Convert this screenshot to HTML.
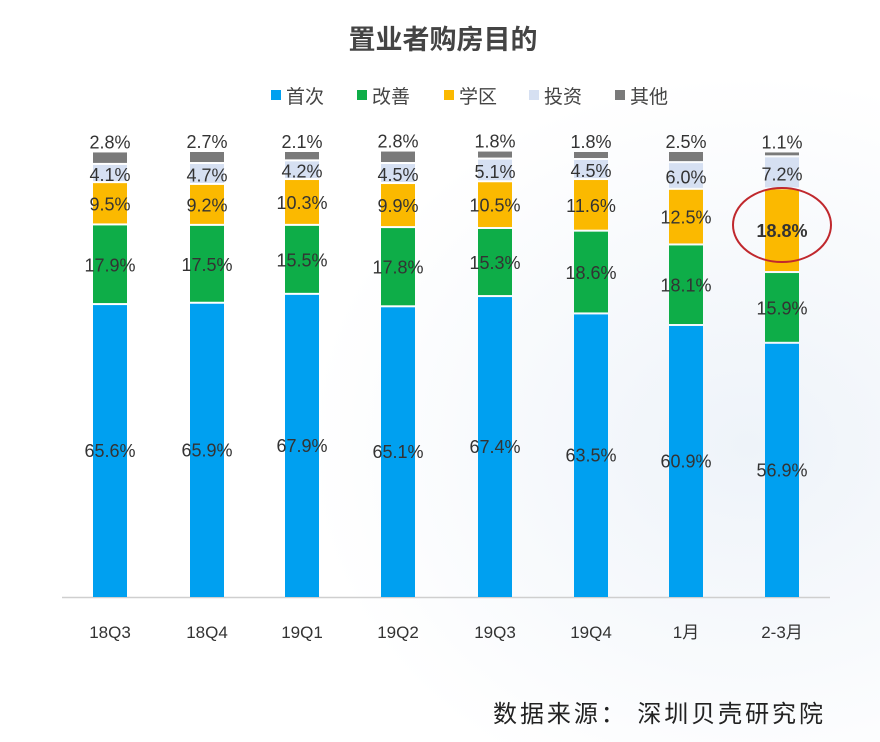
<!DOCTYPE html>
<html><head><meta charset="utf-8"><style>
html,body{margin:0;padding:0;background:#fff;}
svg{display:block;font-family:"Liberation Sans","Noto Sans CJK SC",sans-serif;}
</style></head><body>
<svg id="c" width="880" height="742" xmlns="http://www.w3.org/2000/svg">
<defs>
<radialGradient id="bg" cx="0.85" cy="0.6" r="0.5">
<stop offset="0" stop-color="#eef3f9"/><stop offset="1" stop-color="#ffffff"/>
</radialGradient>
</defs>
<rect width="880" height="742" fill="url(#bg)"/>
<text x="443" y="49" font-size="27" font-weight="bold" fill="#444" text-anchor="middle">置业者购房目的</text>
<g font-size="19" fill="#444">
<rect x="271" y="90" width="10" height="10" fill="#00a0f0"/><text x="286" y="103">首次</text>
<rect x="357" y="90" width="10" height="10" fill="#0ead48"/><text x="372" y="103">改善</text>
<rect x="444" y="90" width="10" height="10" fill="#fbb900"/><text x="459" y="103">学区</text>
<rect x="529" y="90" width="10" height="10" fill="#d6e0f2"/><text x="544" y="103">投资</text>
<rect x="615" y="90" width="10" height="10" fill="#7a7a7a"/><text x="630" y="103">其他</text>
</g>
<line x1="62" y1="597.5" x2="830" y2="597.5" stroke="#cfcfcf" stroke-width="1.5"/>
<g id="bars"></g>
<text x="658" y="722" font-size="24" fill="#222" text-anchor="middle" textLength="330">数据来源： 深圳贝壳研究院</text>
<ellipse cx="782" cy="225" rx="49" ry="37" fill="none" stroke="#c0282d" stroke-width="2"/>
</svg>
<script>
var data=[["18Q3",[65.6,17.9,9.5,4.1,2.8]],["18Q4",[65.9,17.5,9.2,4.7,2.7]],["19Q1",[67.9,15.5,10.3,4.2,2.1]],["19Q2",[65.1,17.8,9.9,4.5,2.8]],["19Q3",[67.4,15.3,10.5,5.1,1.8]],["19Q4",[63.5,18.6,11.6,4.5,1.8]],["1月",[60.9,18.1,12.5,6.0,2.5]],["2-3月",[56.9,15.9,18.8,7.2,1.1]]];
var cols=["#00a0f0","#0ead48","#fbb900","#d6e0f2","#7a7a7a"];
var xs=[110,207,302,398,495,591,686,782];
var g=document.getElementById("bars"),s="",base=597,k=4.45,w=34;
data.forEach(function(d,i){
 var y=base,x=xs[i];
 d[1].forEach(function(v,j){
  var h=v*k,top=y-h;
  s+='<rect x="'+(x-w/2)+'" y="'+top+'" width="'+w+'" height="'+Math.max(h-(j?2:0),1.5)+'" fill="'+cols[j]+'"/>';
  var ly;
  if(j==4) ly=top-4; else ly=top+h/2+6;
  if(j==3) ly=top+h/2+7;
  var bold=(i==7&&j==2);
  s+='<text x="'+x+'" y="'+ly+'" font-size="18" fill="#333" text-anchor="middle"'+(bold?' font-weight="bold"':'')+'>'+v.toFixed(1)+'%</text>';
  y=top;
 });
 s+='<text x="'+x+'" y="638" font-size="17" fill="#333" text-anchor="middle">'+d[0]+'</text>';
});
g.innerHTML=s;
</script>
</body></html>
